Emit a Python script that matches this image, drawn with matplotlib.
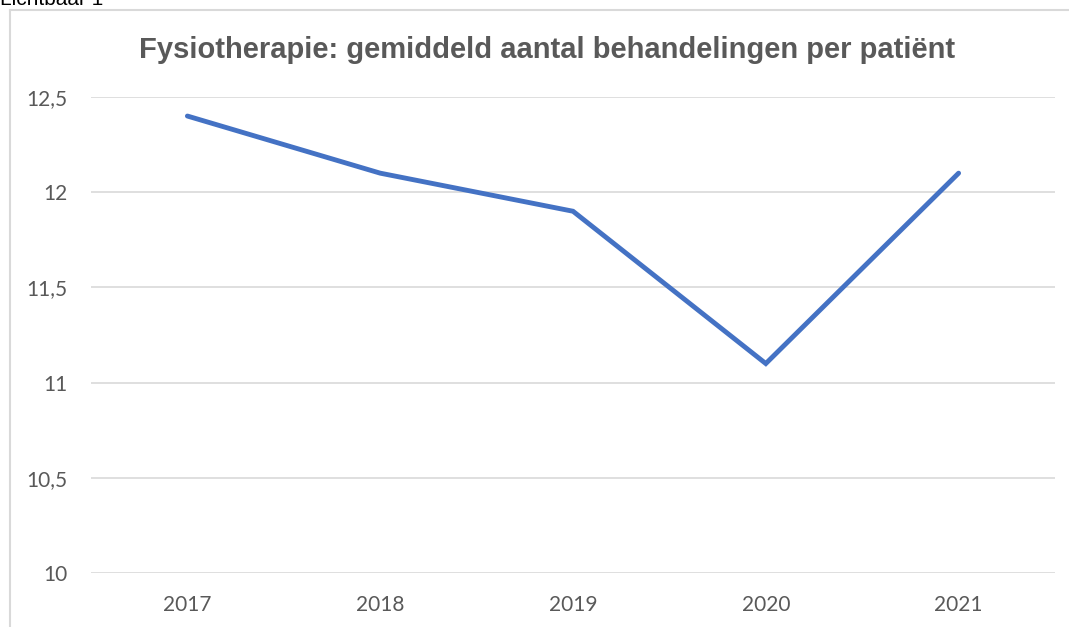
import matplotlib
matplotlib.use("Agg")
import matplotlib.pyplot as plt
from matplotlib.lines import Line2D
from matplotlib.ticker import FuncFormatter

years = ["2017", "2018", "2019", "2020", "2021"]
behandelingen = [12.4, 12.1, 11.9, 11.1, 12.1]
y_ticks = [10, 10.5, 11, 11.5, 12, 12.5]

W, H = 1069, 627
fig = plt.figure(figsize=(W / 100, H / 100), dpi=100)

# chart frame (only left and top edge visible in the crop)
frame_col = "#D9D9D9"
fig.add_artist(Line2D([9.5 / W, 9.5 / W], [0, 1 - 10 / H], color=frame_col, lw=1.5,
                      transform=fig.transFigure))
fig.add_artist(Line2D([9.5 / W, 1], [1 - 10 / H, 1 - 10 / H], color=frame_col, lw=1.5,
                      transform=fig.transFigure))

# caption above the chart, cut off at the top of the image like in the source
fig.text(0 / W, 1 - 5 / H, "Lichtbaar 1", fontsize=15, family="Liberation Sans",
         color="black", ha="left", va="baseline")

ax = fig.add_axes([91 / W, (H - 573) / H, (1055 - 91) / W, (573 - 97) / H])
x = range(len(years))
ax.plot(x, behandelingen, color="#4472C4", lw=3.5, solid_capstyle="round",
        solid_joinstyle="miter")

ax.set_xlim(-0.5, len(years) - 0.5)
ax.set_ylim(10, 12.5)
ax.set_yticks(y_ticks)
ax.yaxis.set_major_formatter(FuncFormatter(lambda v, p: f"{v:g}".replace(".", ",")))
ax.set_xticks(list(x))
ax.set_xticklabels(years)

ax.grid(axis="y", color=frame_col, lw=1.2)
ax.set_axisbelow(True)
for s in ax.spines.values():
    s.set_visible(False)
ax.tick_params(length=0, labelsize=15, labelcolor="#595959")
ax.tick_params(axis="y", pad=17)
ax.tick_params(axis="x", pad=16)
for lab in ax.get_xticklabels() + ax.get_yticklabels():
    lab.set_family("Lato")

fig.text(547 / W, 1 - 50 / H,
         "Fysiotherapie: gemiddeld aantal behandelingen per patiënt",
         fontsize=21, weight="bold", family="Liberation Sans", color="#595959",
         ha="center", va="center")

fig.savefig("out.png", dpi=100)
